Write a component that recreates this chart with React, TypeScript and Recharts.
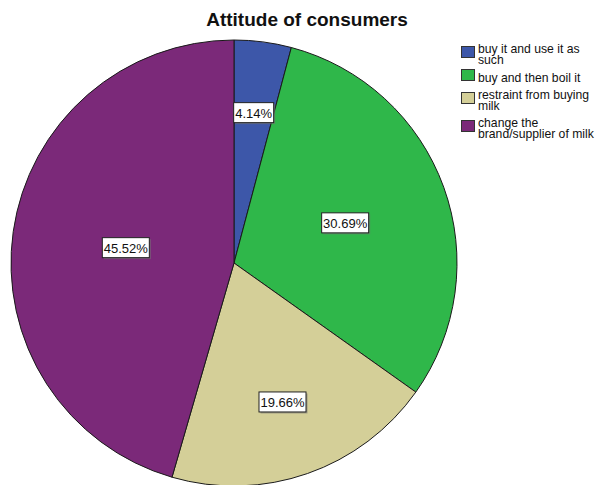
import React from 'react';
import {PieChart, Pie, Cell, Legend} from 'recharts';

// slices, clockwise from 12 o'clock
const categories = [
  'buy it and use it as\nsuch',
  'buy and then boil it',
  'restraint from buying\nmilk',
  'change the\nbrand/supplier of milk',
];
const percentages = [4.14, 30.69, 19.66, 45.52];
const sliceColors = ['#3d57a9', '#2fb74a', '#d4cf98', '#7b2979'];
// how far out (fraction of radius) each percentage box sits
const labelRadius = [0.68, 0.53, 0.66, 0.49];

const data = categories.map((name, i) => ({name, value: percentages[i]}));

const RAD = Math.PI / 180;

const renderLabel = (props: any) => {
  const {cx, cy, midAngle, outerRadius, index, value} = props;
  const r = outerRadius * labelRadius[index];
  const x = cx + r * Math.cos(-midAngle * RAD);
  const y = cy + r * Math.sin(-midAngle * RAD);
  const txt = `${Number(value).toFixed(2)}%`;
  const w = txt.length * 7 + 5;
  const h = 20;
  return (
    <g key={`lbl-${index}`}>
      <rect x={x - w / 2 + 1.5} y={y - h / 2 + 1.5} width={w} height={h} fill="#777" opacity={0.6} />
      <rect x={x - w / 2} y={y - h / 2} width={w} height={h} fill="#fff" stroke="#222" strokeWidth={1} />
      <text
        x={x}
        y={y + 0.5}
        textAnchor="middle"
        dominantBaseline="central"
        style={{fontSize: 13, fontFamily: 'Liberation Sans, Arial, sans-serif', fill: '#111'}}>
        {txt}
      </text>
    </g>
  );
};

const LegendBox = () => (
  <div style={{fontFamily: 'Liberation Sans, Arial, sans-serif', fontSize: 12.2, color: '#111'}}>
    {data.map((d, i) => (
      <div key={d.name} style={{display: 'flex', alignItems: 'center', marginBottom: 6}}>
        <div
          style={{
            width: 12,
            height: 10,
            background: sliceColors[i],
            border: '1px solid #333',
            marginRight: 3,
            position: 'relative',
            top: -3,
            flexShrink: 0,
          }}
        />
        <div style={{whiteSpace: 'pre', lineHeight: '11px'}}>{d.name}</div>
      </div>
    ))}
  </div>
);

export default function App() {
  return (
    <div style={{position: 'absolute', left: 0, top: 0, width: 600, height: 485, overflow: 'hidden', background: '#fff'}}>
      <div
        style={{
          position: 'absolute',
          left: 0,
          width: 614,
          top: 9,
          textAlign: 'center',
          fontFamily: 'Liberation Sans, Arial, sans-serif',
          fontWeight: 'bold',
          fontSize: 19,
          color: '#111',
          lineHeight: '22px',
        }}>
        Attitude of consumers
      </div>
      <PieChart width={600} height={485} margin={{top: 0, right: 0, bottom: 0, left: 0}}>
        <Pie
          data={data}
          dataKey="value"
          nameKey="name"
          cx={234}
          cy={263}
          outerRadius={223}
          startAngle={90}
          endAngle={-270}
          stroke="#1a1a1a"
          strokeWidth={1}
          label={renderLabel}
          labelLine={false}
          isAnimationActive={false}>
          {data.map((entry, index) => (
            <Cell key={`cell-${index}`} fill={sliceColors[index]} />
          ))}
        </Pie>
        <Legend
          content={<LegendBox />}
          wrapperStyle={{position: 'absolute', left: 461, top: 44, width: 140, bottom: 'auto'}}
        />
      </PieChart>
    </div>
  );
}
